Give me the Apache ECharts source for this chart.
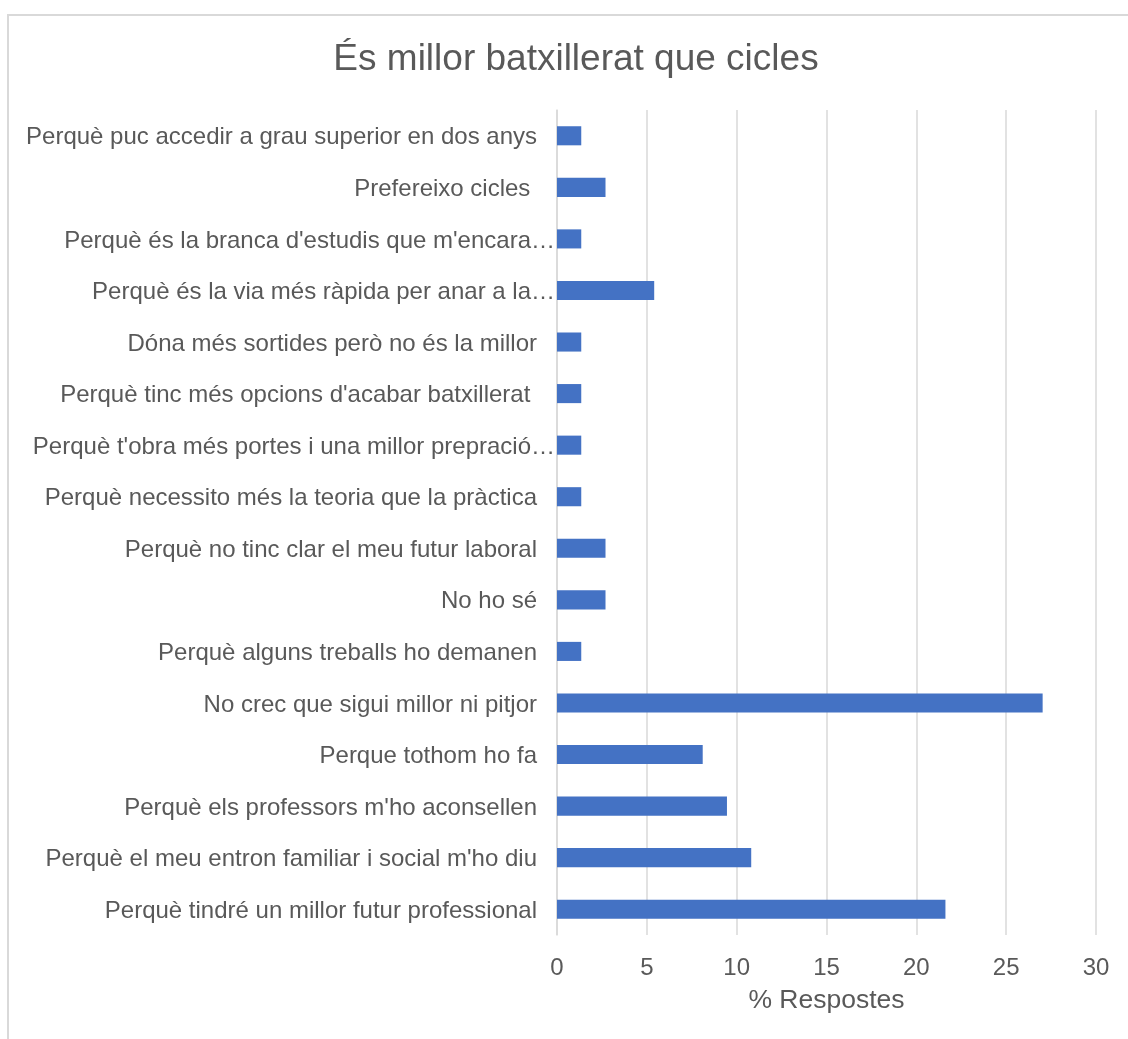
<!DOCTYPE html>
<html>
<head>
<meta charset="utf-8">
<script src="https://cdn.jsdelivr.net/npm/echarts@6/dist/echarts.min.js"></script>
<style>
html,body{margin:0;padding:0;background:#fff;overflow:hidden;}
#frame{position:absolute;left:7px;top:14px;width:1200px;height:1100px;border:2px solid #d9d9d9;box-sizing:border-box;}
#chart{position:absolute;left:0;top:0;width:1128px;height:1039px;}
</style>
</head>
<body>
<div id="frame"></div>
<div id="chart"></div>
<script>
const titleText = "És millor batxillerat que cicles";
const categories = [
  "Perquè puc accedir a grau superior en dos anys",
  "Prefereixo cicles ",
  "Perquè és la branca d'estudis que m'encara…",
  "Perquè és la via més ràpida per anar a la…",
  "Dóna més sortides però no és la millor",
  "Perquè tinc més opcions d'acabar batxillerat ",
  "Perquè t'obra més portes i una millor prepració…",
  "Perquè necessito més la teoria que la pràctica",
  "Perquè no tinc clar el meu futur laboral",
  "No ho sé",
  "Perquè alguns treballs ho demanen",
  "No crec que sigui millor ni pitjor",
  "Perque tothom ho fa",
  "Perquè els professors m'ho aconsellen",
  "Perquè el meu entron familiar i social m'ho diu",
  "Perquè tindré un millor futur professional"
];
const values = [1.35, 2.70, 1.35, 5.41, 1.35, 1.35, 1.35, 1.35, 2.70, 2.70, 1.35, 27.03, 8.11, 9.46, 10.81, 21.62];
const xTicks = [0, 5, 10, 15, 20, 25, 30];
const xName = "% Respostes";

const chart = echarts.init(document.getElementById('chart'));
const font = '"Liberation Sans", Arial, sans-serif';
chart.setOption({
  animation: false,
  title: {
    text: titleText,
    left: 571,
    textAlign: 'center',
    top: 36,
    textStyle: {fontFamily: font, fontSize: 37, fontWeight: 'normal', color: '#595959'}
  },
  grid: {left: 557, right: 32, top: 110, bottom: 104, containLabel: false},
  xAxis: {
    type: 'value',
    min: xTicks[0],
    max: xTicks[xTicks.length - 1],
    interval: 5,
    name: xName,
    nameLocation: 'middle',
    nameGap: 52,
    nameTextStyle: {fontFamily: font, fontSize: 26.5, color: '#595959'},
    axisLine: {show: false},
    axisTick: {show: false},
    axisLabel: {fontFamily: font, fontSize: 24, color: '#595959', margin: 21},
    splitLine: {show: true, lineStyle: {color: '#d9d9d9', width: 1.5}}
  },
  yAxis: {
    type: 'category',
    data: categories,
    inverse: true,
    axisLine: {show: true, lineStyle: {color: '#d9d9d9', width: 1.5}},
    axisTick: {show: false},
    axisLabel: {
      margin: 2,
      fontFamily: font, fontSize: 24, color: '#595959',
      formatter: function (v) { return v.endsWith('…') ? '{a|' + v + '}' : '{b|' + v + '}'; },
      rich: {
        a: {fontFamily: font, fontSize: 24, color: '#595959', padding: [4, 0, 0, 0]},
        b: {fontFamily: font, fontSize: 24, color: '#595959', padding: [4, 18, 0, 0]}
      }
    }
  },
  series: [{
    type: 'bar',
    data: values,
    barWidth: '37%',
    itemStyle: {color: '#4472C4'}
  }]
});
</script>
</body>
</html>
